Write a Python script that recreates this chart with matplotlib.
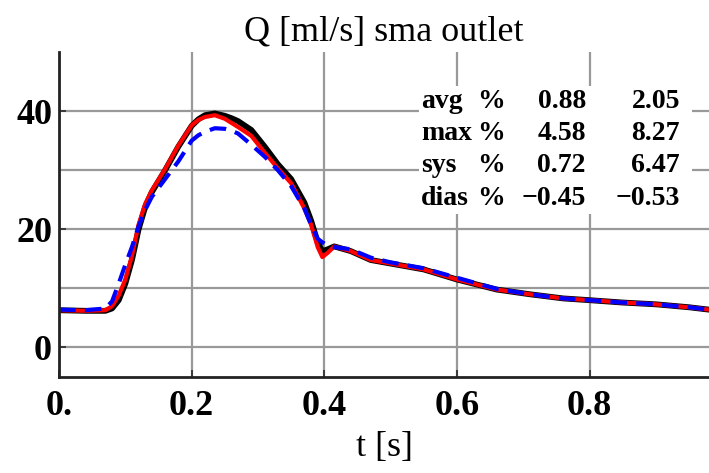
import matplotlib
matplotlib.use("Agg")
import matplotlib.pyplot as plt
from matplotlib.patches import Rectangle

plt.rcParams['font.family'] = ['Liberation Serif', 'DejaVu Serif']

# ---- data ----
t = [0.0, 0.04, 0.07, 0.08, 0.09, 0.10, 0.11, 0.12, 0.13, 0.14, 0.16, 0.18,
     0.20, 0.21, 0.22, 0.235, 0.25, 0.26, 0.27, 0.29, 0.31, 0.33, 0.35, 0.37,
     0.38, 0.39, 0.397, 0.405, 0.415, 0.44, 0.47, 0.50, 0.55, 0.60, 0.66,
     0.71, 0.76, 0.80, 0.85, 0.90, 0.95, 0.98]

q_black = [6.3, 6.2, 6.2, 6.6, 8.0, 10.8, 14.8, 20.0, 23.8, 26.3, 30.0, 34.0,
           37.5, 38.6, 39.3, 39.6, 39.2, 38.8, 38.3, 36.8, 34.0, 31.0, 28.5, 24.5,
           21.5, 17.8, 16.3, 16.6, 17.1, 16.3, 14.8, 14.2, 13.2, 11.5, 9.8,
           9.0, 8.3, 8.0, 7.6, 7.3, 6.8, 6.4]

q_red = [6.3, 6.2, 6.3, 7.0, 8.8, 11.5, 15.5, 20.8, 24.3, 26.6, 30.2, 34.2,
         37.6, 38.5, 39.0, 39.3, 38.7, 38.0, 37.3, 35.8, 33.0, 30.3, 27.8, 23.5,
         20.8, 17.0, 15.3, 16.0, 17.1, 16.3, 14.8, 14.2, 13.2, 11.5, 9.8,
         9.0, 8.3, 8.0, 7.6, 7.3, 6.8, 6.4]

q_blue = [6.4, 6.3, 6.6, 7.8, 10.8, 14.0, 17.0, 20.5, 23.3, 25.5, 28.5, 31.5,
          35.0, 35.9, 36.5, 37.1, 37.0, 36.7, 36.2, 34.3, 32.3, 30.0, 27.3, 23.5,
          20.8, 18.4, 17.8, 17.2, 17.0, 16.6, 15.2, 14.4, 13.4, 11.8, 9.9,
          9.0, 8.3, 8.0, 7.6, 7.3, 6.8, 6.4]

x_ticks = [0.0, 0.2, 0.4, 0.6, 0.8]
x_tick_labels = ["0.", "0.2", "0.4", "0.6", "0.8"]
y_ticks = [0, 20, 40]
y_tick_labels = ["0", "20", "40"]
y_grid_minor = [10, 30]

row_labels = ["avg", "max", "sys", "dias"]
col1 = [0.88, 4.58, 0.72, -0.45]
col2 = [2.05, 8.27, 6.47, -0.53]

# ---- figure ----
W, H = 709, 473
fig = plt.figure(figsize=(W / 100, H / 100), dpi=100)
ax = fig.add_axes([59 / W, 1 - 377 / H, 650 / W, 325 / H])

ax.plot(t, q_black, color='black', lw=4.2, solid_joinstyle='round',
        solid_capstyle='round', zorder=2)
ax.plot(t, q_red, color='#ff0000', lw=3.0, solid_joinstyle='round', zorder=2.1)
ax.plot(t, q_blue, color='#0000ff', lw=3.0, ls=(0, (4.0, 2.2)), zorder=2.2)

ax.set_xlim(0, 0.98)
ax.set_ylim(-5, 50)

ax.set_xticks(x_ticks)
ax.set_xticklabels(x_tick_labels)
ax.set_yticks(y_ticks)
ax.set_yticklabels(y_tick_labels)
ax.set_yticks(y_grid_minor, minor=True)

for lab in ax.get_xticklabels() + ax.get_yticklabels():
    lab.set_fontweight('bold')
    lab.set_fontsize(26)

ax.tick_params(axis='both', which='major', direction='in', length=5, width=1.3,
               color='#333333')
ax.tick_params(axis='x', pad=9)
ax.tick_params(axis='y', pad=5)
ax.tick_params(axis='y', which='minor', length=0)

ax.set_axisbelow(True)
ax.grid(True, which='both', color='#999999', lw=1.6)

for s in ['top', 'right']:
    ax.spines[s].set_visible(False)
for s in ['left', 'bottom']:
    ax.spines[s].set_linewidth(2.0)
    ax.spines[s].set_color('#222222')

ax.set_title("Q [ml/s] sma outlet", fontsize=26, pad=8)
ax.set_xlabel("t [s]", fontsize=26, labelpad=6)

# ---- table ----
def fx(px):
    return (px - 59) / 650

def fy(py):
    return (377 - py) / 325

ax.add_patch(Rectangle((fx(419), fy(214)), fx(692) - fx(419), fy(86) - fy(214),
                       transform=ax.transAxes, facecolor='white',
                       edgecolor='none', zorder=3))

row_y = [102, 133, 165, 198]
fs_tab = 20
def fmt(v):
    s = f"{abs(v):.2f}"
    return ("\u2212" + s) if v < 0 else s

for lab, a, b, py in zip(row_labels, col1, col2, row_y):
    kw = dict(transform=ax.transAxes, fontsize=fs_tab, fontweight='bold',
              va='center', zorder=4)
    ax.text(fx(421), fy(py), lab, ha='left', **kw)
    ax.text(fx(477), fy(py), "%", ha='left', **kw)
    ax.text(fx(586), fy(py), fmt(a), ha='right', **kw)
    ax.text(fx(680), fy(py), fmt(b), ha='right', **kw)

fig.savefig("out.png", dpi=100)
